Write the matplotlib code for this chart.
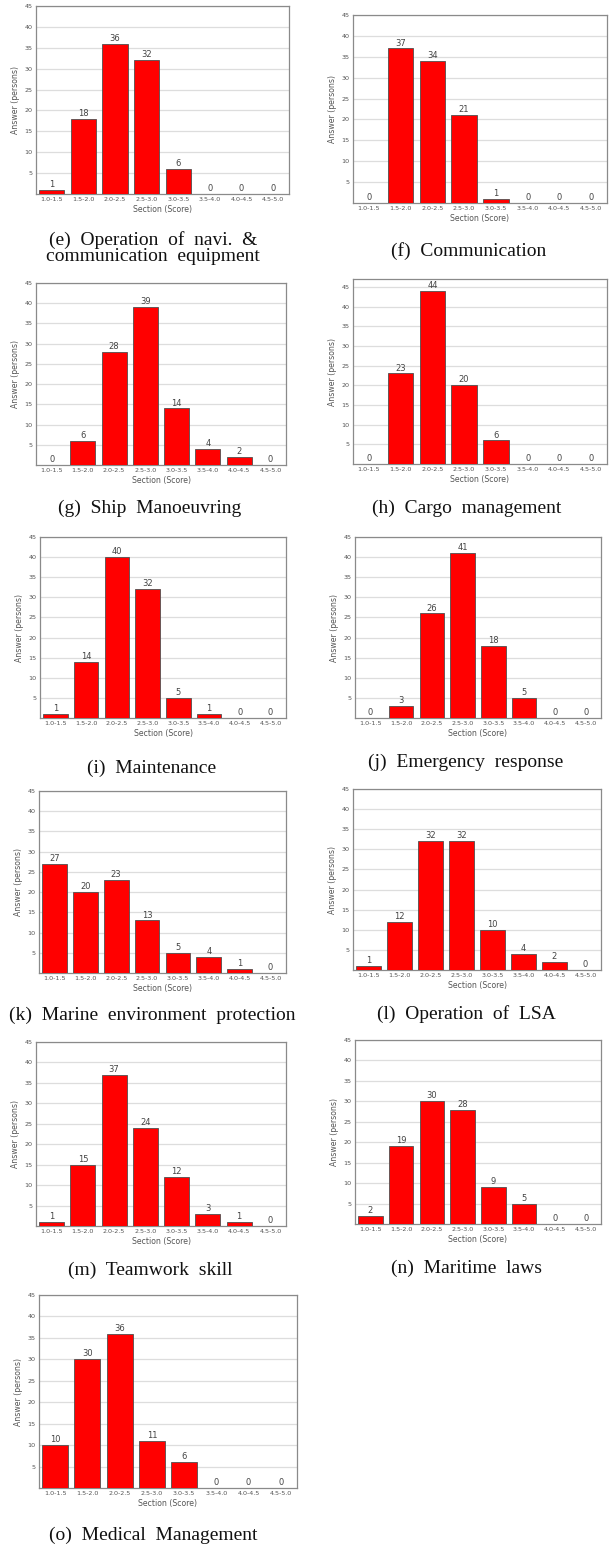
import matplotlib
matplotlib.use("Agg")
import matplotlib.pyplot as plt

W, H = 610, 1547
DPI = 100

sections = ["1.0-1.5", "1.5-2.0", "2.0-2.5", "2.5-3.0",
            "3.0-3.5", "3.5-4.0", "4.0-4.5", "4.5-5.0"]
yticks = [5, 10, 15, 20, 25, 30, 35, 40, 45]

vals_e = [1, 18, 36, 32, 6, 0, 0, 0]
vals_f = [0, 37, 34, 21, 1, 0, 0, 0]
vals_g = [0, 6, 28, 39, 14, 4, 2, 0]
vals_h = [0, 23, 44, 20, 6, 0, 0, 0]
vals_i = [1, 14, 40, 32, 5, 1, 0, 0]
vals_j = [0, 3, 26, 41, 18, 5, 0, 0]
vals_k = [27, 20, 23, 13, 5, 4, 1, 0]
vals_l = [1, 12, 32, 32, 10, 4, 2, 0]
vals_m = [1, 15, 37, 24, 12, 3, 1, 0]
vals_n = [2, 19, 30, 28, 9, 5, 0, 0]
vals_o = [10, 30, 36, 11, 6, 0, 0, 0]

captions_e = ["(e)  Operation  of  navi.  &", "communication  equipment"]
caption_f = "(f)  Communication"
caption_g = "(g)  Ship  Manoeuvring"
caption_h = "(h)  Cargo  management"
caption_i = "(i)  Maintenance"
caption_j = "(j)  Emergency  response"
caption_k = "(k)  Marine  environment  protection"
caption_l = "(l)  Operation  of  LSA"
caption_m = "(m)  Teamwork  skill"
caption_n = "(n)  Maritime  laws"
caption_o = "(o)  Medical  Management"

fig = plt.figure(figsize=(W / DPI, H / DPI), dpi=DPI)
fig.patch.set_facecolor("white")


def px_axes(x0, y0, x1, y1):
    return fig.add_axes([x0 / W, 1 - y1 / H, (x1 - x0) / W, (y1 - y0) / H])


def panel(box, vals, ytop=45):
    ax = px_axes(*box)
    x = list(range(len(sections)))
    ax.bar(x, vals, width=0.8, color="#ff0000", edgecolor="#505050",
           linewidth=0.6, zorder=3)
    ax.set_xlim(-0.5, len(sections) - 0.5)
    ax.set_ylim(0, ytop)
    ax.set_yticks(yticks)
    ax.set_xticks(x)
    ax.set_xticklabels(sections)
    ax.tick_params(axis="both", length=0, labelsize=4.6, colors="#555555",
                   pad=2.5)
    ax.grid(axis="y", color="#dddddd", linewidth=0.9, zorder=0)
    for s in ax.spines.values():
        s.set_color("#8a8a8a")
        s.set_linewidth(0.9)
    ax.set_ylabel("Answer (persons)", fontsize=5.6, color="#555555",
                  labelpad=3)
    ax.set_xlabel("Section (Score)", fontsize=5.6, color="#555555",
                  labelpad=2)
    for xi, v in zip(x, vals):
        ax.annotate(str(v), (xi, v), xytext=(0, 0.6),
                    textcoords="offset points", ha="center", va="bottom",
                    fontsize=6, color="#444444", zorder=4)
    return ax


def caption(xc, yb, text):
    fig.text(xc / W, 1 - yb / H, text, ha="center", va="baseline",
             fontsize=14, family="Liberation Serif", color="#111111")


panel((36, 6, 289, 194), vals_e)
panel((353, 15, 607, 203), vals_f)
panel((36, 283, 286, 465), vals_g)
panel((353, 279, 607, 464), vals_h, ytop=47)
panel((40, 537, 286, 718), vals_i)
panel((355, 537, 601, 718), vals_j)
panel((39, 791, 286, 973), vals_k)
panel((353, 789, 601, 970), vals_l)
panel((36, 1042, 286, 1226), vals_m)
panel((355, 1040, 601, 1224), vals_n)
panel((39, 1295, 297, 1488), vals_o)

caption(153, 245, captions_e[0])
caption(153, 261, captions_e[1])
caption(469, 256, caption_f)
caption(150, 513, caption_g)
caption(467, 513, caption_h)
caption(152, 773, caption_i)
caption(466, 767, caption_j)
caption(152, 1020, caption_k)
caption(466, 1019, caption_l)
caption(150, 1275, caption_m)
caption(466, 1273, caption_n)
caption(153, 1540, caption_o)

fig.savefig("out.png", dpi=DPI, facecolor="white")
